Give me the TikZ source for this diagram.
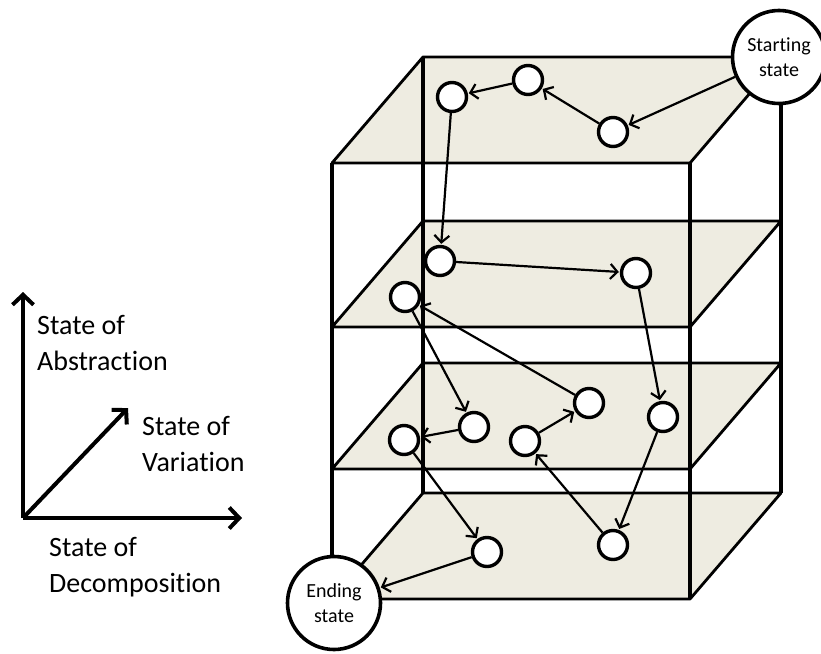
\documentclass[tikz,border=0pt]{standalone}
\usepackage{fontspec}
\setmainfont{Carlito}[Ligatures=NoCommon]
\usepackage{tikz}
\usetikzlibrary{arrows,arrows.meta}
\usepackage{xcolor}
\definecolor{planefill}{HTML}{EEECE1}

\begin{document}
\begin{tikzpicture}[x=1pt,y=-1pt,>={Straight Barb[length=7pt,width=15pt]},
                    state node/.style={circle,draw,line width=3.4pt,fill=white,minimum size=29pt,inner sep=0pt},
                    end node/.style={circle,draw,line width=3.6pt,fill=white,minimum size=93pt,inner sep=0pt,
                                     align=center,font=\fontsize{20}{25}\selectfont},
                    plane/.style={draw,line width=2.8pt,fill=planefill,line join=round},
                    edge/.style={->,line width=2.2pt,shorten >=1pt},
                    axis/.style={-{Straight Barb[length=10pt,width=21pt]},line width=4pt},
                    axis label/.style={anchor=west,align=left,inner sep=0pt,font=\fontsize{28}{36}\selectfont}]
  \useasboundingbox (0,0) rectangle (821,653);

  % Planes
  \foreach \y in {163,327,469,599}
    \draw[plane] (332,\y) -- (690,\y) -- (781,\y-106) -- (423,\y-106) -- cycle;

  % Box
  \draw[line width=3.6pt] (332,163) -- (332,599);
  \draw[line width=3.6pt] (690,163) -- (690,599);
  \draw[line width=3.6pt] (423,57) -- (423,493);
  \draw[line width=3.6pt] (781,57) -- (781,493);

  % Nodes
  \node[end node] (start) at (779,57) {Starting\\state};
  \node[end node] (end) at (334,603) {Ending\\state};

  \node[state node] (a1) at (528,80) {};
  \node[state node] (a2) at (452,97) {};
  \node[state node] (a3) at (613,132) {};
  \node[state node] (b1) at (440,261) {};
  \node[state node] (b2) at (636,273) {};
  \node[state node] (b3) at (405,297) {};
  \node[state node] (c1) at (474,427) {};
  \node[state node] (c2) at (404,440) {};
  \node[state node] (c3) at (525,441) {};
  \node[state node] (c4) at (589,403) {};
  \node[state node] (c5) at (663,417) {};
  \node[state node] (d1) at (487,552) {};
  \node[state node] (d2) at (613,545) {};

  % Edges
  \draw[edge] (start) -- (a3);
  \draw[edge] (a3) -- (a1);
  \draw[edge] (a1) -- (a2);
  \draw[edge] (a2) -- (b1);
  \draw[edge] (b1) -- (b2);
  \draw[edge] (b2) -- (c5);
  \draw[edge] (c5) -- (d2);
  \draw[edge] (d2) -- (c3);
  \draw[edge] (c3) -- (c4);
  \draw[edge] (c4) -- (b3);
  \draw[edge] (b3) -- (c1);
  \draw[edge] (c1) -- (c2);
  \draw[edge] (c2) -- (d1);
  \draw[edge] (d1) -- (end);

  % Axes
  \coordinate (o) at (23,518);
  \coordinate (up) at (23,292);
  \coordinate (right) at (242,518);
  \coordinate (diag) at (128,408);
  \draw[axis] (o) -- (up);
  \draw[axis] (o) -- (right);
  \draw[axis] (o) -- (diag);
  \node[axis label] (abs) at (37,343) {State of\\Abstraction};
  \node[axis label] (var) at (142,444) {State of\\Variation};
  \node[axis label] (dec) at (49,567) {State of\\Decomposition};
\end{tikzpicture}
\end{document}
